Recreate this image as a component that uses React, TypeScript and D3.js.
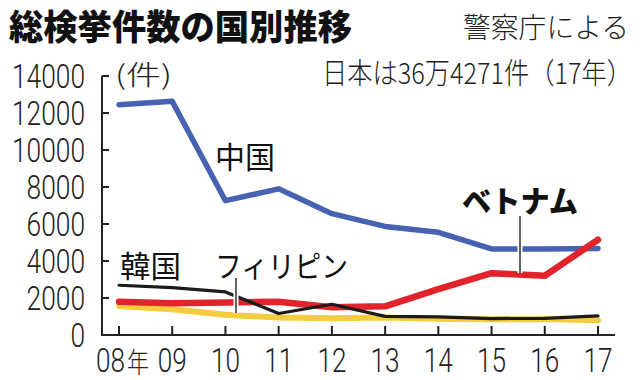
import React from "react";
import * as d3 from "d3";

const years = ["08", "09", "10", "11", "12", "13", "14", "15", "16", "17"];
const xLabels = ["08年", "09", "10", "11", "12", "13", "14", "15", "16", "17"];
const yTicks = [0, 2000, 4000, 6000, 8000, 10000, 12000, 14000];
const china = [12450, 12630, 7260, 7900, 6560, 5870, 5550, 4650, 4650, 4680];
const vietnam = [1800, 1720, 1760, 1800, 1500, 1550, 2480, 3340, 3200, 5150];
const korea = [2690, 2560, 2330, 1160, 1660, 1010, 975, 890, 900, 1030];
const philippines = [1570, 1390, 1090, 940, 900, 940, 880, 850, 870, 800];

const W = 640;
const H = 380;

export default function App() {
  const x = d3.scaleLinear().domain([0, years.length - 1]).range([119, 598]);
  const y = d3.scaleLinear().domain([0, 14000]).range([335, 76]);
  const line = d3
    .line<number>()
    .x((_, i) => x(i))
    .y((d) => y(d));

  const series = [
    { name: "china", data: china, color: "#4862b2", w: 5.5 },
    { name: "philippines", data: philippines, color: "#f3cd3c", w: 6 },
    { name: "vietnam", data: vietnam, color: "#e1232b", w: 6.5 },
    { name: "korea", data: korea, color: "#1e1a1a", w: 3.2 },
  ];

  const jp = "'Noto Sans CJK JP', 'Noto Sans', sans-serif";
  const num = "Roboto, 'Liberation Sans Narrow', sans-serif";
  const axisColor = "#222";

  return (
    <svg width={W} height={H} viewBox={`0 0 ${W} ${H}`} style={{ position: "absolute", left: 0, top: 0, background: "#fff" }}>
      <rect x={0} y={0} width={W} height={H} fill="#fff" />
      {/* Title */}
      <text x={9} y={40} fontFamily={jp} fontWeight={900} fontSize={35} fill="#111" textLength={343} lengthAdjust="spacingAndGlyphs">
        総検挙件数の国別推移
      </text>
      <text x={463} y={38} fontFamily={jp} fontWeight={300} fontSize={28} fill="#222" textLength={166} lengthAdjust="spacingAndGlyphs">
        警察庁による
      </text>
      <text x={322} y={84} fontFamily={jp} fontWeight={300} fontSize={29} fill="#222" textLength={310} lengthAdjust="spacingAndGlyphs">
        日本は36万4271件（17年）
      </text>

      {/* Y axis */}
      <line x1={102} x2={102} y1={y(14000)} y2={y(0)} stroke={axisColor} strokeWidth={2} />
      {yTicks.map((t) => (
        <g key={t}>
          {t > 0 && <line x1={102} x2={109} y1={y(t)} y2={y(t)} stroke={axisColor} strokeWidth={2} />}
          <text
            x={85}
            y={y(t) + 12}
            textAnchor="end"
            fontFamily={num}
            fontSize={33}
            fontWeight={300}
            fill="#222"
            textLength={String(t).length * 14.6}
            lengthAdjust="spacingAndGlyphs"
          >
            {t}
          </text>
        </g>
      ))}
      <text x={115} y={85} fontFamily={jp} fontWeight={300} fontSize={27} fill="#222" textLength={57} lengthAdjust="spacingAndGlyphs">
        (件)
      </text>

      {/* X axis */}
      <line x1={101} x2={615} y1={335} y2={335} stroke={axisColor} strokeWidth={2} />
      {years.map((yr, i) => (
        <line key={yr} x1={x(i)} x2={x(i)} y1={335} y2={326} stroke={axisColor} strokeWidth={2} />
      ))}
      {xLabels.map((lab, i) =>
        i === 0 ? (
          <g key={lab}>
            <text x={96} y={372} fontFamily={num} fontWeight={300} fontSize={33} fill="#222" textLength={29} lengthAdjust="spacingAndGlyphs">
              08
            </text>
            <text x={127} y={373} fontFamily={jp} fontWeight={300} fontSize={28} fill="#222" textLength={22} lengthAdjust="spacingAndGlyphs">
              年
            </text>
          </g>
        ) : (
          <text
            key={lab}
            x={x(i)}
            y={372}
            textAnchor="middle"
            fontFamily={num}
            fontWeight={300}
            fontSize={33}
            fill="#222"
            textLength={29}
            lengthAdjust="spacingAndGlyphs"
          >
            {lab}
          </text>
        )
      )}

      {/* Lines */}
      {series.map((s) => (
        <path key={s.name} d={line(s.data) || ""} fill="none" stroke={s.color} strokeWidth={s.w} strokeLinejoin="round" strokeLinecap="round" />
      ))}

      {/* Leader lines */}
      <line x1={520} x2={520} y1={216} y2={273} stroke="#fff" strokeWidth={5} />
      <line x1={520} x2={520} y1={216} y2={273} stroke="#111" strokeWidth={1.3} />
      <line x1={236} x2={236} y1={278} y2={313} stroke="#fff" strokeWidth={5} />
      <line x1={236} x2={236} y1={278} y2={313} stroke="#111" strokeWidth={1.3} />

      {/* Labels */}
      <text x={215} y={168} fontFamily={jp} fontWeight={400} fontSize={30} fill="#111" textLength={60} lengthAdjust="spacingAndGlyphs">
        中国
      </text>
      <text x={120} y={277} fontFamily={jp} fontWeight={400} fontSize={30} fill="#111" textLength={61} lengthAdjust="spacingAndGlyphs">
        韓国
      </text>
      <text x={215} y={277} fontFamily={jp} fontWeight={400} fontSize={30} fill="#111" textLength={133} lengthAdjust="spacingAndGlyphs">
        フィリピン
      </text>
      <text x={462} y={212} fontFamily={jp} fontWeight={900} fontSize={30} fill="#111" textLength={116} lengthAdjust="spacingAndGlyphs">
        ベトナム
      </text>
    </svg>
  );
}
